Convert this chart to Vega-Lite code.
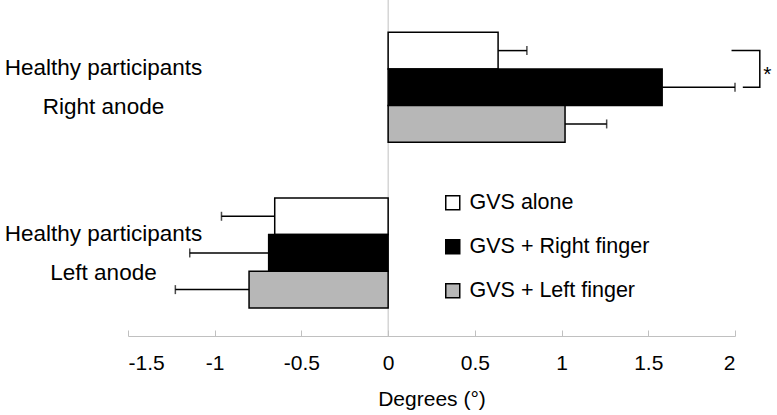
{
  "$schema": "https://vega.github.io/schema/vega-lite/v6.json",
  "width": 607,
  "height": 336,
  "autosize": {"type": "none"},
  "padding": {"left": 128, "top": 0, "right": 42, "bottom": 79},
  "config": {"font": "Liberation Sans", "view": {"stroke": null}},
  "datasets": {
    "bars": [
      {"group": "Right anode", "series": "GVS alone", "value": 0.634, "err": 0.80},
      {"group": "Right anode", "series": "GVS + Right finger", "value": 1.58, "err": 2.0},
      {"group": "Right anode", "series": "GVS + Left finger", "value": 1.02, "err": 1.26},
      {"group": "Left anode", "series": "GVS alone", "value": -0.654, "err": -0.961},
      {"group": "Left anode", "series": "GVS + Right finger", "value": -0.689, "err": -1.144},
      {"group": "Left anode", "series": "GVS + Left finger", "value": -0.802, "err": -1.227}
    ],
    "bracket": [
      {"group": "Right anode", "series": "GVS alone", "bx": 1.98, "k": 1},
      {"group": "Right anode", "series": "GVS alone", "bx": 2.143, "k": 2},
      {"group": "Right anode", "series": "GVS + Right finger", "bx": 2.143, "k": 3},
      {"group": "Right anode", "series": "GVS + Right finger", "bx": 2.045, "k": 4}
    ],
    "star": [
      {"group": "Right anode", "series": "GVS alone", "sx": 2.187, "label": "*"}
    ]
  },
  "layer": [
    {
      "data": {"values": [{"zero": 0}]},
      "mark": {"type": "rule", "color": "#c0c0c0", "strokeWidth": 1},
      "encoding": {"x": {"field": "zero", "type": "quantitative", "scale": {"domain": [-1.5, 2], "nice": false, "zero": false}}}
    },
    {
      "data": {"name": "bars"},
      "mark": {"type": "bar", "stroke": "black", "strokeWidth": 1.5},
      "encoding": {
        "y": {
          "field": "group", "type": "nominal", "sort": ["Right anode", "Left anode"],
          "scale": {"paddingInner": 0.336, "paddingOuter": 0.182, "align": 0.535},
          "axis": {
            "title": null, "domain": false, "ticks": false, "grid": false,
            "labelExpr": "['Healthy participants', datum.value]",
            "labelFontSize": 22.5, "labelColor": "black", "labelAlign": "center",
            "labelBaseline": "middle", "labelLineHeight": 39, "labelPadding": 25, "labelLimit": 0,
            "labelOffset": -19
          }
        },
        "yOffset": {
          "field": "series", "type": "nominal",
          "sort": ["GVS alone", "GVS + Right finger", "GVS + Left finger"],
          "scale": {"paddingInner": 0, "paddingOuter": 0}
        },
        "x": {
          "field": "value", "type": "quantitative", "stack": null,
          "scale": {"domain": [-1.5, 2], "nice": false, "zero": false},
          "axis": {
            "title": "Degrees (°)", "values": [-1.5, -1, -0.5, 0, 0.5, 1, 1.5, 2],
            "labelExpr": "'' + datum.value", "grid": false,
            "domainColor": "#c0c0c0", "tickColor": "#c0c0c0", "tickSize": -6,
            "labelPadding": 22, "labelFontSize": 21, "labelColor": "black",
            "titleFontSize": 21, "titleFontWeight": "normal", "titleColor": "black", "titlePadding": 15
          }
        },
        "fill": {
          "field": "series", "type": "nominal",
          "scale": {"domain": ["GVS alone", "GVS + Right finger", "GVS + Left finger"], "range": ["white", "black", "#b7b7b7"]},
          "legend": {
            "title": null, "orient": "none", "legendX": 314, "legendY": 192, "padding": 0,
            "symbolType": "square", "symbolSize": 196, "symbolStrokeColor": "black", "symbolStrokeWidth": 1.5,
            "labelFontSize": 21.5, "labelColor": "black", "labelOffset": 6, "rowPadding": 21, "labelLimit": 400
          }
        }
      }
    },
    {
      "data": {"name": "bars"},
      "mark": {"type": "rule", "color": "black", "strokeWidth": 1.5},
      "encoding": {
        "y": {"field": "group", "type": "nominal", "sort": ["Right anode", "Left anode"]},
        "yOffset": {"field": "series", "type": "nominal", "sort": ["GVS alone", "GVS + Right finger", "GVS + Left finger"]},
        "x": {"field": "value", "type": "quantitative"},
        "x2": {"field": "err"}
      }
    },
    {
      "data": {"name": "bars"},
      "mark": {"type": "tick", "color": "black", "thickness": 1.5, "size": 9, "orient": "vertical"},
      "encoding": {
        "y": {"field": "group", "type": "nominal", "sort": ["Right anode", "Left anode"]},
        "yOffset": {"field": "series", "type": "nominal", "sort": ["GVS alone", "GVS + Right finger", "GVS + Left finger"]},
        "x": {"field": "err", "type": "quantitative"}
      }
    },
    {
      "data": {"name": "bracket"},
      "mark": {"type": "line", "color": "black", "strokeWidth": 1.5, "clip": false},
      "encoding": {
        "y": {"field": "group", "type": "nominal", "sort": ["Right anode", "Left anode"]},
        "yOffset": {"field": "series", "type": "nominal", "sort": ["GVS alone", "GVS + Right finger", "GVS + Left finger"]},
        "x": {"field": "bx", "type": "quantitative"},
        "order": {"field": "k", "type": "quantitative"}
      }
    },
    {
      "data": {"name": "star"},
      "mark": {"type": "text", "fontSize": 21, "color": "black", "align": "center", "baseline": "middle", "dy": 24},
      "encoding": {
        "y": {"field": "group", "type": "nominal", "sort": ["Right anode", "Left anode"]},
        "yOffset": {"field": "series", "type": "nominal", "sort": ["GVS alone", "GVS + Right finger", "GVS + Left finger"]},
        "x": {"field": "sx", "type": "quantitative"},
        "text": {"field": "label"}
      }
    }
  ]
}
